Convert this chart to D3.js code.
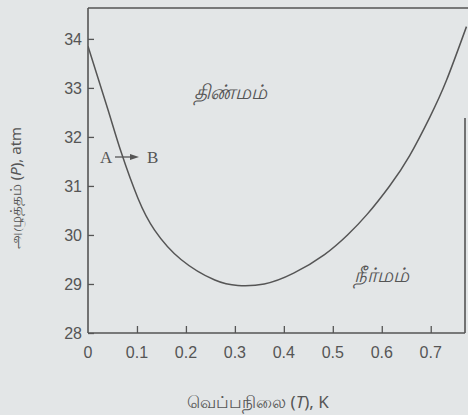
<!DOCTYPE html>
<html><head><meta charset="utf-8">
<script src="https://cdn.jsdelivr.net/npm/d3@7"></script>
<style>html,body{margin:0;padding:0;background:#e3e6e7;}svg{display:block;}</style>
</head><body>
<script>
const temps = [0, 0.041, 0.068, 0.102, 0.136, 0.19, 0.259, 0.306, 0.36, 0.42, 0.483, 0.53, 0.57, 0.616, 0.657, 0.698, 0.732, 0.773];
const pressures = [33.85, 32.55, 31.68, 30.75, 30.1, 29.5, 29.08, 28.97, 29.0, 29.22, 29.6, 30.0, 30.42, 31.0, 31.62, 32.4, 33.15, 34.25];
const xTicks = [0, 0.1, 0.2, 0.3, 0.4, 0.5, 0.6, 0.7];
const yTicks = [28, 29, 30, 31, 32, 33, 34];
const solidLabel = "திண்மம்";
const liquidLabel = "நீர்மம்";

const W = 468, H = 415;
const ink = "#555";
const svg = d3.select("body").append("svg").attr("width", W).attr("height", H);
const x = d3.scaleLinear().domain([0, 0.77]).range([88, 465]);
const y = d3.scaleLinear().domain([28, 34.63]).range([333, 8]);

svg.append("defs").append("clipPath").attr("id","clip")
  .append("rect").attr("x", 88).attr("y", 8).attr("width", 380).attr("height", 325);

// frame
const fr = svg.append("g").attr("stroke", ink).attr("stroke-width", 1.6).attr("fill","none");
fr.append("line").attr("x1", 88).attr("x2", 88).attr("y1", 8).attr("y2", 333);
fr.append("line").attr("x1", 88).attr("x2", 468).attr("y1", 8).attr("y2", 8);
fr.append("line").attr("x1", 88).attr("x2", 465).attr("y1", 333).attr("y2", 333);
fr.append("line").attr("x1", 465).attr("x2", 465).attr("y1", 118).attr("y2", 333);

// y axis
const ya = svg.append("g").attr("transform","translate(88,0)")
  .call(d3.axisRight(y).tickValues(yTicks).tickSize(6).tickFormat(""));
ya.select(".domain").remove();
ya.selectAll("line").attr("stroke", ink).attr("stroke-width", 1.3);
svg.append("g").selectAll("text").data(yTicks).join("text")
  .attr("x", 82).attr("y", d => y(d)).attr("dy", "0.36em").attr("text-anchor","end")
  .attr("font-family","Liberation Sans, Arial, sans-serif").attr("font-size", 16).attr("fill", ink)
  .text(d => d);

// x axis
const xa = svg.append("g").attr("transform","translate(0,333)")
  .call(d3.axisTop(x).tickValues(xTicks.filter(d=>d>0)).tickSize(7).tickFormat(""));
xa.select(".domain").remove();
xa.selectAll("line").attr("stroke", ink).attr("stroke-width", 1.3);
svg.append("g").selectAll("text").data(xTicks).join("text")
  .attr("x", d => x(d)).attr("y", 358).attr("text-anchor","middle")
  .attr("font-family","Liberation Sans, Arial, sans-serif").attr("font-size", 16).attr("fill", ink)
  .text(d => d === 0 ? "0" : d3.format(".1f")(d));

// curve
const pts = temps.map((t,i)=>[t, pressures[i]]);
svg.append("path").datum(pts).attr("clip-path","url(#clip)")
  .attr("fill","none").attr("stroke", ink).attr("stroke-width", 1.5)
  .attr("d", d3.line().x(d=>x(d[0])).y(d=>y(d[1])).curve(d3.curveNatural));

// A -> B
svg.append("text").attr("x", 100).attr("y", 163).attr("font-family","Liberation Serif, serif")
  .attr("font-size", 17).attr("fill", ink).text("A");
svg.append("text").attr("x", 147).attr("y", 163).attr("font-family","Liberation Serif, serif")
  .attr("font-size", 17).attr("fill", ink).text("B");
svg.append("line").attr("x1", 115).attr("x2", 136).attr("y1", 157).attr("y2", 157)
  .attr("stroke", ink).attr("stroke-width", 1.3);
svg.append("path").attr("d","M139,157 L130,154 L130,160 Z").attr("fill", ink);

// region labels
svg.append("text").attr("x", 230).attr("y", 99).attr("text-anchor","middle")
  .attr("font-family","Noto Sans, sans-serif").attr("font-size", 20).attr("fill", ink)
  .attr("font-style","italic").text(solidLabel);
svg.append("text").attr("x", 381).attr("y", 282).attr("text-anchor","middle")
  .attr("font-family","Noto Sans, sans-serif").attr("font-size", 20).attr("fill", ink)
  .attr("font-style","italic").text(liquidLabel);

// axis titles
const xt = svg.append("text").attr("x", 258).attr("y", 408).attr("text-anchor","middle")
  .attr("font-family","Noto Sans, sans-serif").attr("font-size", 17).attr("fill", ink);
xt.append("tspan").text("வெப்பநிலை (");
xt.append("tspan").attr("font-style","italic").text("T");
xt.append("tspan").text("), K");
const yt = svg.append("text").attr("transform","translate(21,188) rotate(-90)").attr("text-anchor","middle")
  .attr("font-family","Noto Sans, sans-serif").attr("font-size", 15).attr("fill", ink);
yt.append("tspan").text("அழுத்தம் (");
yt.append("tspan").attr("font-style","italic").text("P");
yt.append("tspan").text("), atm");
</script>
</body></html>
